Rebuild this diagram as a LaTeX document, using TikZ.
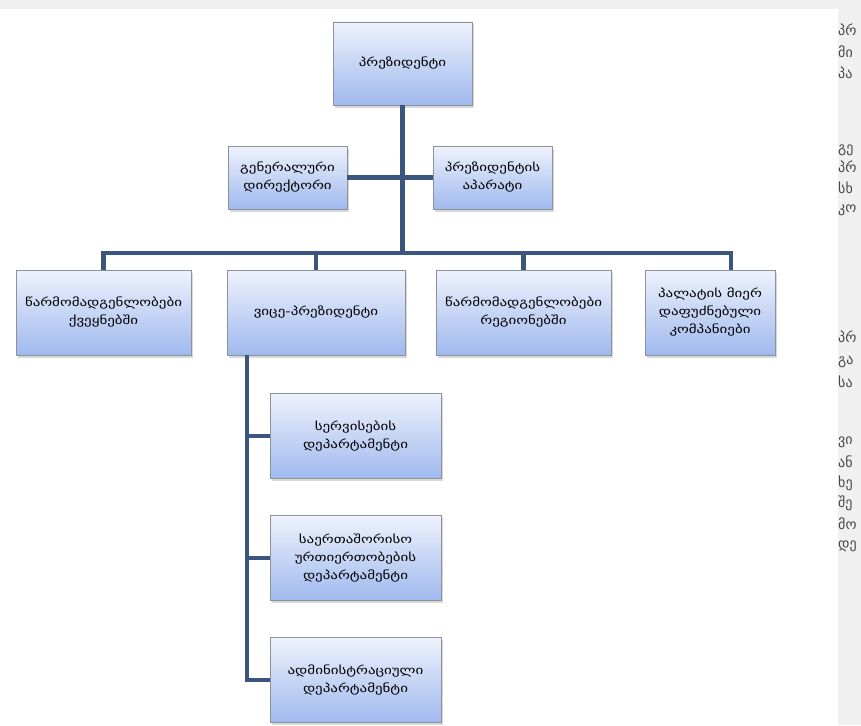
\documentclass[tikz,border=0pt]{standalone}
\usepackage{fontspec}
\setmainfont{DejaVu Sans}
\newfontfamily\boxfont[FakeStretch=1.3]{DejaVu Sans}
\usetikzlibrary{shadows}
\definecolor{linkcol}{RGB}{58,86,124}
\definecolor{boxtop}{RGB}{238,242,252}
\definecolor{boxbot}{RGB}{160,185,238}
\definecolor{sidetext}{RGB}{70,70,70}
\tikzset{
  unit/.style={draw={rgb,255:red,140;green,146;blue,156},line width=0.8pt,
    top color=boxtop,bottom color=boxbot,align=center,inner sep=2pt,
    font=\boxfont\fontsize{11.5}{18}\selectfont,
    drop shadow={shadow xshift=2pt,shadow yshift=-2.5pt,fill=black!30}},
  link/.style={draw=linkcol,line width=4.5pt},
  sideline/.style={anchor=west,inner sep=0pt,text=sidetext,font=\fontsize{14}{16}\selectfont}
}
\begin{document}
\begin{tikzpicture}[x=1pt,y=1pt,yscale=-1]
\fill[white] (0,0) rectangle (861,725);
\fill[black!6] (0,0) rectangle (861,9);
\fill[black!6] (838,9) rectangle (861,725);
\useasboundingbox (0,0) rectangle (861,725);
% top level
\node[unit,minimum width=139pt,minimum height=83pt] (pres) at (402.5,63.5) {პრეზიდენტი};
\node[unit,minimum width=119pt,minimum height=63pt] (gendir) at (287.5,177.5) {გენერალური\\დირექტორი};
\node[unit,minimum width=119pt,minimum height=63pt] (apparat) at (492.5,177.5) {პრეზიდენტის\\აპარატი};
% second level
\node[unit,minimum width=175pt,minimum height=85pt] (repc) at (103.5,312.5) {წარმომადგენლობები\\ქვეყნებში};
\node[unit,minimum width=178pt,minimum height=85pt] (vice) at (316,312.5) {ვიცე-პრეზიდენტი};
\node[unit,minimum width=175pt,minimum height=85pt] (repr) at (523.5,312.5) {წარმომადგენლობები\\რეგიონებში};
\node[unit,minimum width=130pt,minimum height=85pt] (comp) at (710,312.5) {პალატის მიერ\\დაფუძნებული\\კომპანიები};
% departments
\node[unit,minimum width=171pt,minimum height=85pt] (serv) at (355.5,436) {სერვისების\\დეპარტამენტი};
\node[unit,minimum width=171pt,minimum height=85pt] (intl) at (355.5,558) {საერთაშორისო\\ურთიერთობების\\დეპარტამენტი};
\node[unit,minimum width=171pt,minimum height=85pt] (adm) at (355.5,680) {ადმინისტრაციული\\დეპარტამენტი};
% connectors
\coordinate (hub) at (pres.south |- 0,253);
\coordinate (comptop) at ([xshift=21pt]comp.north);
\coordinate (trunk) at ([xshift=-69pt]vice.south);
\draw[link] (pres.south) -- (hub);
\draw[link] (gendir.east) -- (gendir.east -| pres.south);
\draw[link] (apparat.west) -- (apparat.west -| pres.south);
\draw[link] (repc.north) |- (hub);
\draw[link] (comptop) |- (hub);
\draw[link] (vice.north) -- (vice.north |- hub);
\draw[link] (repr.north) -- (repr.north |- hub);
\draw[link] (trunk) |- (adm.west);
\draw[link] (serv.west) -- (serv.west -| trunk);
\draw[link] (intl.west) -- (intl.west -| trunk);
% side text, cut by the page edge
\begin{scope}
\clip (838,9) rectangle (861,725);
\node[sideline] (s1) at (838,30) {პრ};
\node[sideline] (s2) at (838,52) {მი};
\node[sideline] (s3) at (838,73) {პა};
\node[sideline] (s4) at (838,150) {გე};
\node[sideline] (s5) at (838,167) {პრ};
\node[sideline] (s6) at (838,188) {სხ};
\node[sideline] (s7) at (838,210) {კო};
\node[sideline] (s8) at (838,337) {პრ};
\node[sideline] (s9) at (838,362) {გა};
\node[sideline] (s10) at (838,382) {სა};
\node[sideline] (s11) at (838,442) {ვი};
\node[sideline] (s12) at (838,462) {ან};
\node[sideline] (s13) at (838,483) {ხე};
\node[sideline] (s14) at (838,503) {შე};
\node[sideline] (s15) at (838,524) {მო};
\node[sideline] (s16) at (838,546) {დე};
\end{scope}
\end{tikzpicture}
\end{document}
